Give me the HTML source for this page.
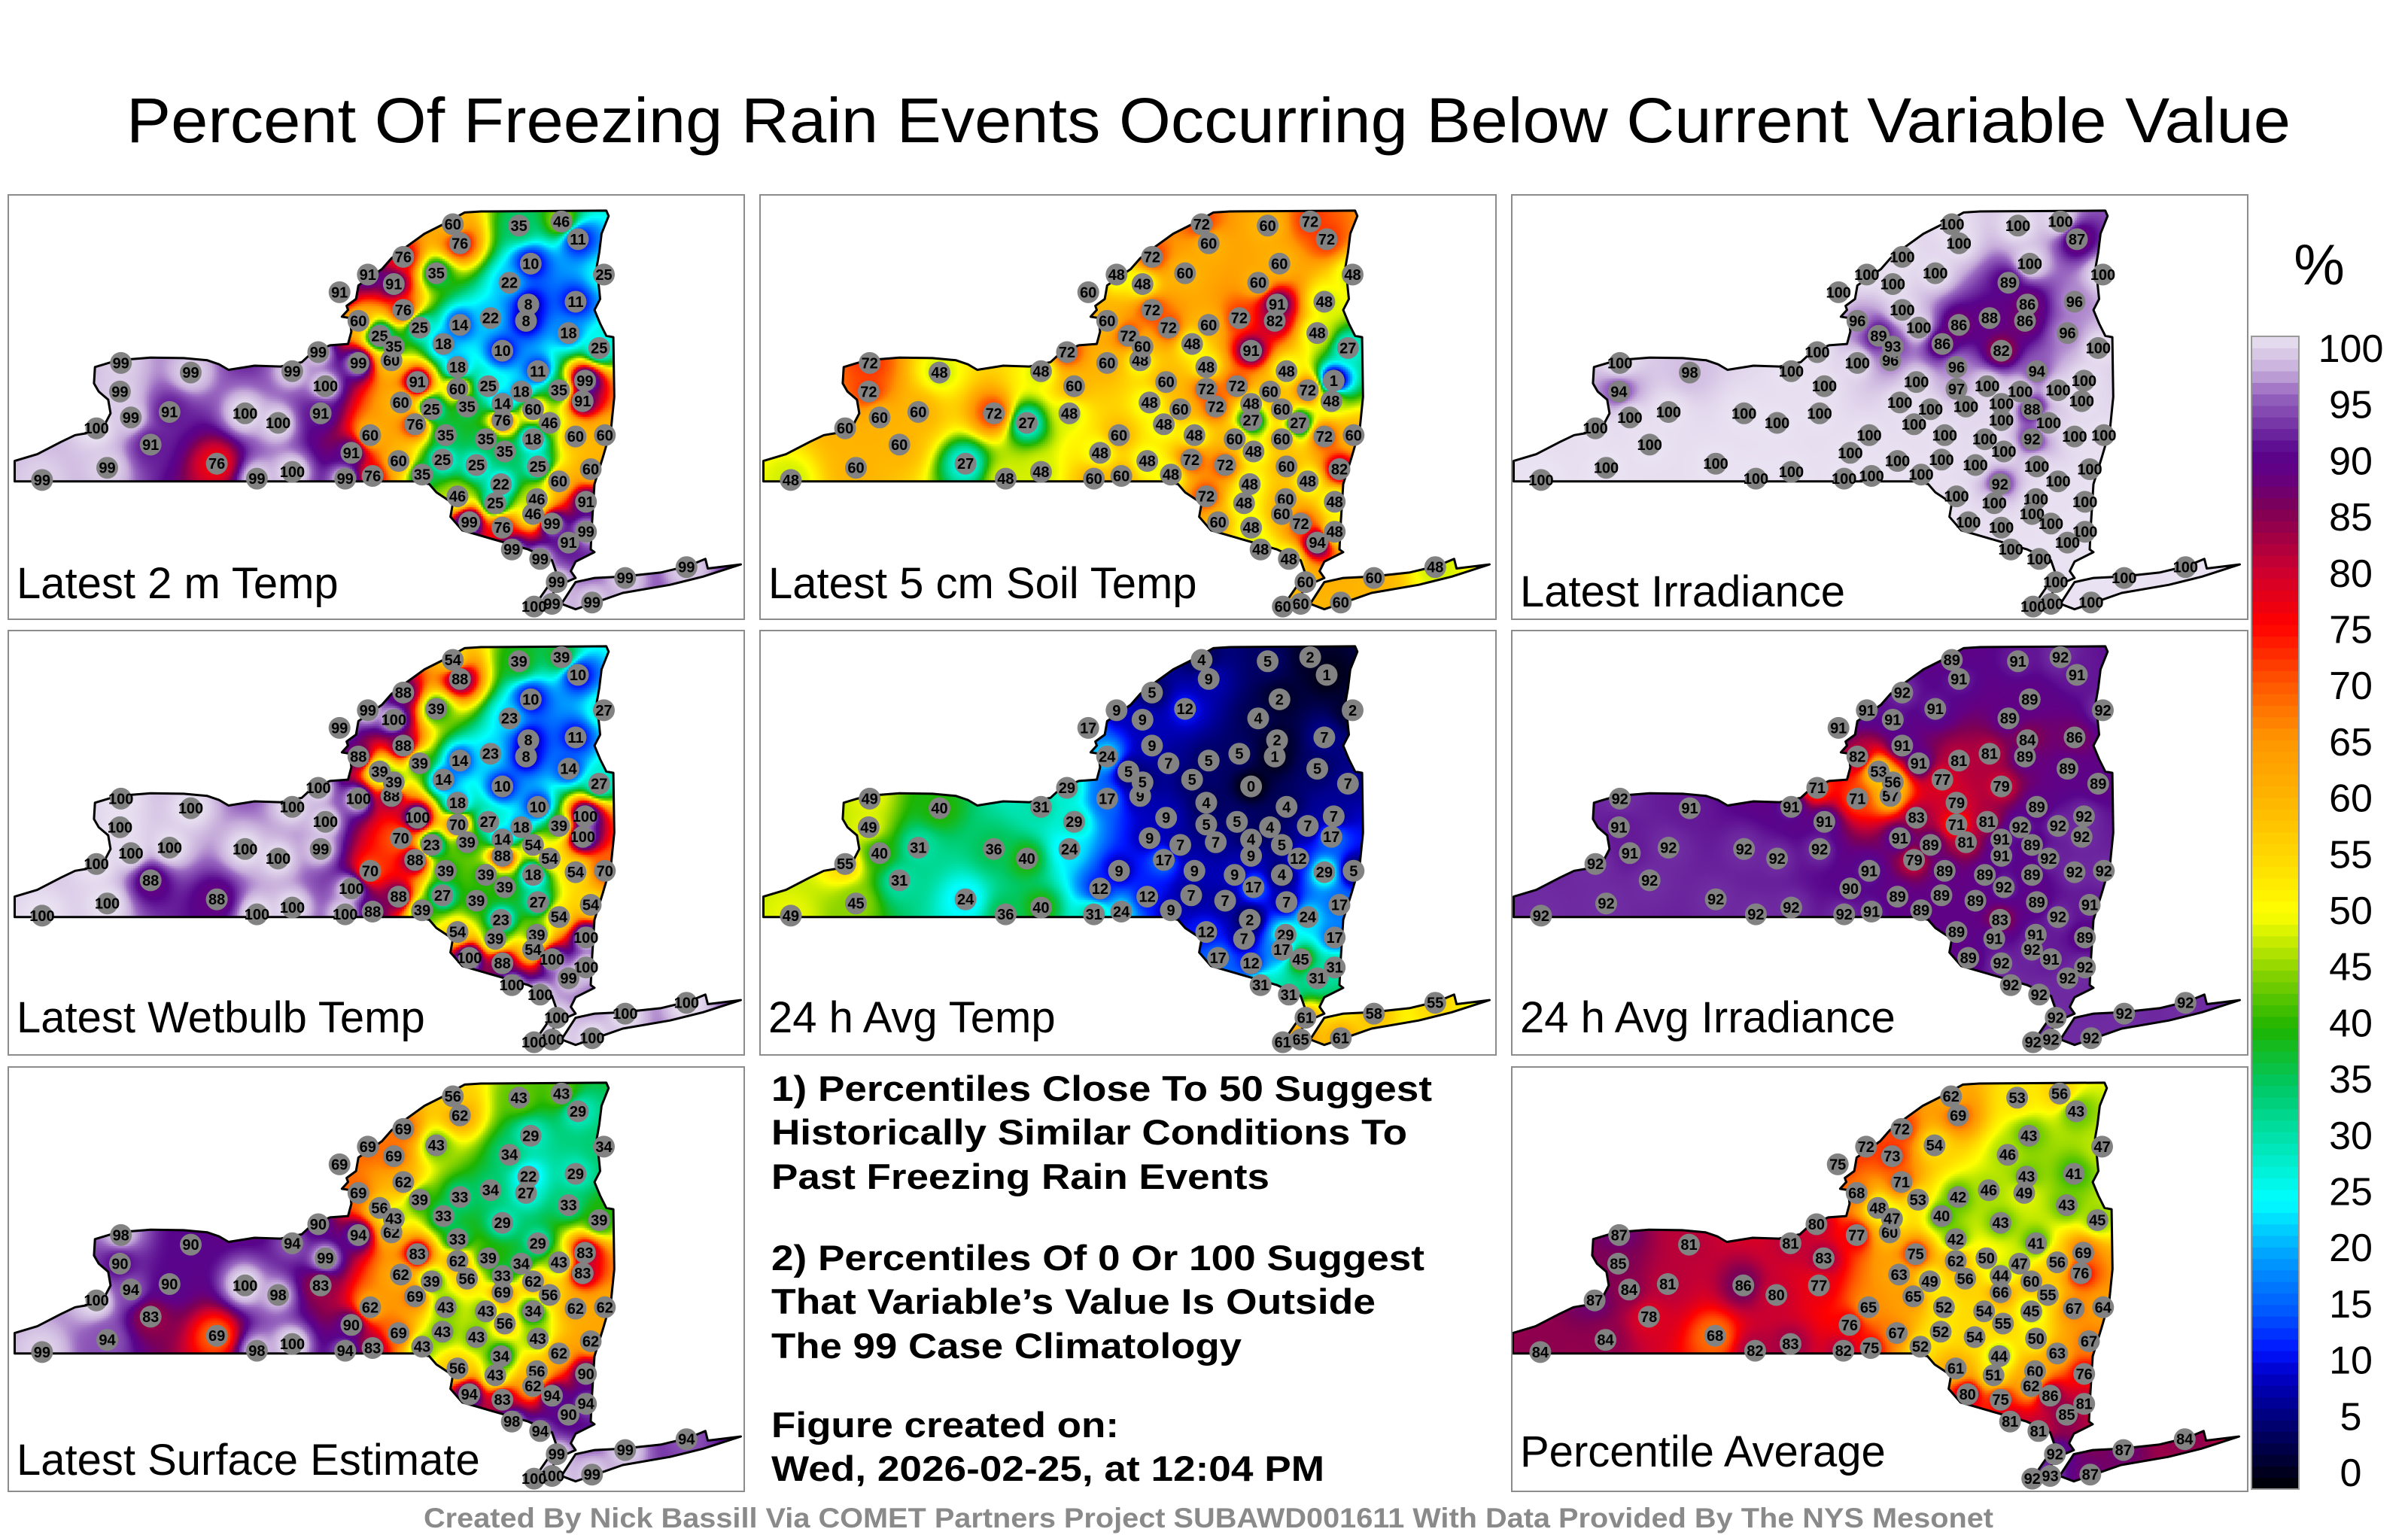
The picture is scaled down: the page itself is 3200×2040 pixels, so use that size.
<!DOCTYPE html>
<html>
<head>
<meta charset="utf-8">
<style>
  html,body{margin:0;padding:0;background:#fff;}
  #root{position:relative;width:3200px;height:2040px;overflow:hidden;background:#fff;font-family:"Liberation Sans",sans-serif;}
  .panel{position:absolute;width:976px;height:562px;border:2px solid #8c8c8c;background:#fff;overflow:hidden;}
  .panel canvas{position:absolute;left:0;top:0;}
  .panel svg{position:absolute;left:0;top:0;}
</style>
</head>
<body>
<div id="root">
<svg id="main" width="3200" height="2040" style="position:absolute;left:0;top:0">
  <text x="1606" y="189" text-anchor="middle" font-size="84" textLength="2876" lengthAdjust="spacingAndGlyphs" font-family="Liberation Sans, sans-serif">Percent Of Freezing Rain Events Occurring Below Current Variable Value</text>
  <g font-family="Liberation Sans, sans-serif" font-weight="bold" font-size="47">
    <text x="1025" y="1463" textLength="878" lengthAdjust="spacingAndGlyphs">1) Percentiles Close To 50 Suggest</text>
    <text x="1025" y="1521" textLength="845" lengthAdjust="spacingAndGlyphs">Historically Similar Conditions To</text>
    <text x="1025" y="1580" textLength="662" lengthAdjust="spacingAndGlyphs">Past Freezing Rain Events</text>
    <text x="1025" y="1688" textLength="868" lengthAdjust="spacingAndGlyphs">2) Percentiles Of 0 Or 100 Suggest</text>
    <text x="1025" y="1746" textLength="803" lengthAdjust="spacingAndGlyphs">That Variable’s Value Is Outside</text>
    <text x="1025" y="1805" textLength="625" lengthAdjust="spacingAndGlyphs">The 99 Case Climatology</text>
    <text x="1025" y="1910" textLength="462" lengthAdjust="spacingAndGlyphs">Figure created on:</text>
    <text x="1025" y="1968" textLength="735" lengthAdjust="spacingAndGlyphs">Wed, 2026-02-25, at 12:04 PM</text>
  </g>
  <text x="1606" y="2030" text-anchor="middle" font-size="37" font-weight="bold" fill="#8a8a8a" textLength="2086" lengthAdjust="spacingAndGlyphs" font-family="Liberation Sans, sans-serif">Created By Nick Bassill Via COMET Partners Project SUBAWD001611 With Data Provided By The NYS Mesonet</text>
  <g id="cbar"></g>
  <text x="3082" y="378" text-anchor="middle" font-size="76" font-family="Liberation Sans, sans-serif">%</text>
</svg>
</div>
<script>
// ---- station map coordinates (map units, same network in every panel) ----
const stationE = [70,237,235,258,185,300,208,340,385,440,500,525,600,570,600,670,660,655,740,725,712,765,740,700,815,835,955,940,1080,1170,1205,1260,1105,1060,905,1200,1100,955,870,1020,1185,1045,920,810,1250,1120,950,865,1220,1215,830,950,1015,1085,1165,895,970,1045,1110,860,925,1045,1145,1200,1262,1010,1110,825,918,990,1050,1120,1232,770,875,1165,1042,950,1030,1118,1222,975,1045,1110,1150,1222,1185,1065,1125,1160,1150,1235,1305,1435,1112,1095,785,815,835,760];
const stationN = [1045,615,720,815,855,915,1000,795,650,985,800,1040,1015,835,645,700,800,575,615,945,1040,880,460,355,325,225,175,105,110,95,160,290,250,320,285,390,400,475,485,450,505,570,545,605,560,645,630,685,680,755,760,710,700,720,715,785,775,765,785,840,880,825,835,885,880,895,895,975,970,990,940,995,1005,1030,1025,1050,1060,1105,1130,1115,1125,1200,1220,1170,1205,1235,1275,1300,1335,1420,1500,1495,1405,1365,1510,460,515,555,420,290];

// ---- percentile values per panel ----
const valsTemp2m = [99,99,99,99,100,91,99,91,99,76,100,99,100,100,99,100,91,99,99,91,99,60,60,91,91,76,76,60,35,46,11,25,10,22,35,11,8,14,25,22,18,10,18,60,25,11,18,91,99,91,60,60,25,18,35,25,35,14,60,76,35,76,46,60,60,35,18,60,25,25,35,25,60,76,35,60,22,46,25,46,91,99,76,46,99,99,91,99,99,99,99,99,99,99,100,8,25,35,76,91];
const valsSoil5cm = [48,72,72,60,60,60,60,60,48,27,72,48,48,27,48,60,48,72,60,48,60,60,60,60,48,72,60,72,60,72,72,48,60,60,60,48,91,60,72,72,48,91,48,48,27,48,48,60,1,48,48,72,72,60,72,60,72,48,60,48,48,27,27,72,60,60,60,48,72,72,48,60,82,60,48,48,48,72,48,60,48,60,48,60,72,48,94,48,48,60,60,60,60,48,60,82,72,60,72,48];
const valsIrradiance = [100,100,94,100,100,100,100,100,98,100,100,100,100,100,100,100,100,100,100,100,100,100,96,100,100,100,100,100,100,100,87,100,100,89,100,96,86,86,100,88,96,82,86,96,100,94,96,100,100,100,100,97,100,100,100,100,100,100,88,100,100,100,100,100,100,100,92,100,100,100,100,100,100,100,100,100,92,100,100,100,100,100,100,100,100,100,100,100,100,100,100,100,100,100,100,86,89,93,100,100];
const valsWetbulb = [100,100,100,100,100,88,100,100,100,88,100,100,100,100,100,100,99,100,100,100,100,70,88,99,100,88,88,54,39,39,10,27,10,23,39,11,8,14,39,23,14,10,14,88,27,10,18,100,100,100,70,70,27,18,39,23,39,14,54,88,39,88,54,54,70,39,18,88,27,39,39,27,54,88,39,54,23,54,39,39,100,100,88,54,100,100,99,100,100,100,100,100,100,100,100,8,39,39,88,99];
const valsAvgTemp = [49,49,49,40,55,31,45,31,40,24,36,36,40,40,31,29,24,29,17,12,31,9,24,17,9,5,9,4,5,2,1,2,2,4,12,7,2,5,7,5,5,0,5,9,7,4,4,9,7,17,9,5,5,4,7,7,7,4,5,17,9,9,12,29,5,9,4,12,7,7,17,7,17,24,9,24,2,12,7,29,17,17,12,17,45,31,31,31,31,61,65,61,58,55,61,1,5,5,9,9];
const valsAvgIrr = [92,92,91,91,92,92,92,92,91,92,92,92,92,92,91,91,92,71,71,90,92,91,82,91,91,92,91,89,91,92,91,92,89,89,91,86,84,81,91,81,89,79,77,57,89,89,79,83,92,92,91,71,81,92,92,89,81,91,89,79,89,91,92,92,92,89,89,89,89,89,92,89,91,91,89,92,83,89,91,91,89,89,92,92,91,92,92,92,92,92,92,92,92,92,92,89,53,56,91,91];
const valsSurface = [99,98,90,94,100,83,94,90,90,69,100,98,100,98,94,99,83,90,94,90,94,62,69,69,69,69,62,56,43,43,29,34,29,34,43,29,22,33,39,34,33,29,33,62,39,29,33,83,83,83,62,62,39,34,43,39,56,33,62,69,43,69,56,62,62,43,34,69,43,43,56,43,62,83,43,62,34,56,43,56,90,94,83,62,94,94,90,98,94,99,100,99,99,94,100,27,56,43,62,69];
const valsAverage = [84,87,85,84,87,78,84,81,81,68,86,82,83,80,81,83,77,80,77,76,82,65,68,75,73,72,69,62,53,56,43,47,43,46,54,41,43,42,53,46,43,43,40,60,45,41,42,75,69,76,63,62,50,47,56,49,56,44,60,65,52,66,55,67,64,54,45,67,52,54,55,50,67,75,52,63,44,61,51,60,76,80,75,62,86,81,85,81,81,92,93,87,87,84,92,49,48,47,71,72];

// ---- colour scale stops (percent -> rgb) ----
const stopV = [0,5,10,12,15,20,25,30,35,40,45,48,50,55,60,65,70,75,80,85,88,90,92,95,97,100];
const stopC = [[0,0,0],[0,0,100],[0,0,200],[0,20,255],[0,80,255],[0,155,255],[0,255,255],[0,228,180],[0,200,100],[30,180,0],[140,212,0],[210,240,0],[255,255,0],[255,215,0],[255,180,0],[255,150,0],[255,85,0],[255,0,0],[200,0,50],[125,0,85],[100,0,130],[88,5,140],[112,45,162],[152,102,192],[198,172,218],[234,227,242]];
const cbarTicks = [0,5,10,15,20,25,30,35,40,45,50,55,60,65,70,75,80,85,90,95,100];

function colorOf(v){
  if(v<=0) return stopC[0];
  if(v>=100) return stopC[stopC.length-1];
  for(let i=1;i<stopV.length;i++){
    if(v<=stopV[i]){
      const t=(v-stopV[i-1])/(stopV[i]-stopV[i-1]);
      const a=stopC[i-1],b=stopC[i];
      return [a[0]+(b[0]-a[0])*t,a[1]+(b[1]-a[1])*t,a[2]+(b[2]-a[2])*t];
    }
  }
  return stopC[stopC.length-1];
}
function rgb(c){return 'rgb('+Math.round(c[0])+','+Math.round(c[1])+','+Math.round(c[2])+')';}

const SX = 980/1562, SY = 566/1565;
const outlineMain = [[12,1050],[12,975],[60,950],[110,905],[140,880],[175,870],[200,850],[215,800],[210,750],[190,720],[180,690],[182,630],[230,605],[300,595],[370,597],[420,605],[445,620],[465,640],[520,625],[575,628],[620,612],[640,580],[680,550],[718,545],[725,500],[722,450],[705,445],[718,420],[715,405],[735,380],[740,330],[790,270],[810,230],[840,190],[880,140],[920,105],[965,62],[1000,58],[1265,55],[1270,75],[1255,140],[1250,210],[1245,260],[1252,380],[1240,420],[1252,470],[1265,515],[1280,520],[1282,740],[1275,860],[1258,960],[1240,1060],[1235,1200],[1232,1300],[1240,1310],[1200,1345],[1190,1380],[1200,1405],[1180,1420],[1160,1440],[1150,1470],[1110,1520],[1095,1530],[1120,1490],[1140,1440],[1160,1390],[1150,1340],[1100,1300],[1040,1270],[1000,1250],[960,1230],[935,1180],[940,1130],[905,1090],[890,1060],[860,1050]];
const outlineLI = [[1200,1420],[1240,1405],[1300,1400],[1380,1385],[1440,1360],[1475,1335],[1480,1370],[1550,1355],[1470,1400],[1400,1430],[1300,1460],[1250,1490],[1200,1520],[1170,1500],[1185,1460]];

const panels = [
  {key:'latest-2m-temp', label:'Latest 2 m Temp', x:10, y:258, dx:0, ly:535, vals:valsTemp2m},
  {key:'latest-5cm-soil-temp', label:'Latest 5 cm Soil Temp', x:1009, y:258, dx:-4, ly:535, vals:valsSoil5cm},
  {key:'latest-irradiance', label:'Latest Irradiance', x:2008, y:258, dx:-6, ly:546, vals:valsIrradiance},
  {key:'latest-wetbulb-temp', label:'Latest Wetbulb Temp', x:10, y:837, dx:0, ly:533, vals:valsWetbulb},
  {key:'24h-avg-temp', label:'24 h Avg Temp', x:1009, y:837, dx:-4, ly:533, vals:valsAvgTemp},
  {key:'24h-avg-irradiance', label:'24 h Avg Irradiance', x:2008, y:837, dx:-6, ly:533, vals:valsAvgIrr},
  {key:'latest-surface-estimate', label:'Latest Surface Estimate', x:10, y:1417, dx:0, ly:541, vals:valsSurface},
  {key:'percentile-average', label:'Percentile Average', x:2008, y:1417, dx:-7, ly:530, vals:valsAverage}
];

const NS='http://www.w3.org/2000/svg';
const root=document.getElementById('root');

function pathOf(pts,dx){
  return 'M'+pts.map(p=>(p[0]*SX+dx).toFixed(1)+','+(p[1]*SY).toFixed(1)).join('L')+'Z';
}

panels.forEach(function(p){
  const div=document.createElement('div');
  div.className='panel';
  div.style.left=p.x+'px';div.style.top=p.y+'px';
  
  
  root.appendChild(div);

  const W=976,H=562;
  const cv=document.createElement('canvas');
  cv.width=W;cv.height=H;
  
  
  div.appendChild(cv);
  const ctx=cv.getContext('2d');
  const d=pathOf(outlineMain,p.dx)+pathOf(outlineLI,p.dx);
  ctx.save();
  ctx.clip(new Path2D(d));
  const px=stationE.map(e=>e*SX+p.dx), py=stationN.map(n=>n*SY);
  const cell=3;
  for(let y=0;y<H;y+=cell){
    for(let x=0;x<W;x+=cell){
      const cx=x+cell/2, cy=y+cell/2;
      let sw=0,sv=0,hit=-1;
      for(let i=0;i<px.length;i++){
        const ddx=cx-px[i], ddy=cy-py[i];
        const d2=ddx*ddx+ddy*ddy;
        if(d2<1){hit=i;break;}
        const w=1/(d2*Math.sqrt(d2));
        sw+=w;sv+=w*p.vals[i];
      }
      const v=hit>=0?p.vals[hit]:sv/sw;
      ctx.fillStyle=rgb(colorOf(v));
      ctx.fillRect(x,y,cell,cell);
    }
  }
  ctx.restore();

  const svg=document.createElementNS(NS,'svg');
  svg.setAttribute('width',W);svg.setAttribute('height',H);
  
  
  div.appendChild(svg);
  const ol=document.createElementNS(NS,'path');
  ol.setAttribute('d',d);
  ol.setAttribute('fill','none');ol.setAttribute('stroke','#000');ol.setAttribute('stroke-width','3');ol.setAttribute('stroke-linejoin','round');
  
  
  svg.appendChild(ol);
  for(let i=0;i<px.length;i++){
    const g=document.createElementNS(NS,'g');
    
    
    const c=document.createElementNS(NS,'circle');
    c.setAttribute('cx',px[i].toFixed(1));c.setAttribute('cy',py[i].toFixed(1));c.setAttribute('r','14.5');
    c.setAttribute('fill','#828282');
    g.appendChild(c);
    const t=document.createElementNS(NS,'text');
    t.setAttribute('x',px[i].toFixed(1));t.setAttribute('y',(py[i]+7).toFixed(1));
    t.setAttribute('text-anchor','middle');t.setAttribute('font-size','20');t.setAttribute('font-weight','bold');
    t.setAttribute('font-family','Liberation Sans Narrow, Liberation Sans, sans-serif');
    t.textContent=String(p.vals[i]);
    g.appendChild(t);
    svg.appendChild(g);
  }
  const lb=document.createElementNS(NS,'text');
  lb.setAttribute('x','10');lb.setAttribute('y',p.ly);
  lb.setAttribute('font-size','58');lb.setAttribute('font-family','Liberation Sans, sans-serif');
  
  
  lb.textContent=p.label;
  svg.appendChild(lb);
});

// ---- colorbar ----
const cb=document.getElementById('cbar');
const cbTop=447, cbBot=1979, cbX=2992, cbW=63;
const unit=(cbBot-cbTop)/100;
for(let v=0;v<100;v++){
  const r=document.createElementNS(NS,'rect');
  r.setAttribute('x',cbX);r.setAttribute('y',(cbBot-(v+1)*unit).toFixed(2));
  r.setAttribute('width',cbW);r.setAttribute('height',(unit+0.6).toFixed(2));
  r.setAttribute('fill',rgb(colorOf(v+0.5)));
  
  
  cb.appendChild(r);
}
const fr=document.createElementNS(NS,'rect');
fr.setAttribute('x',cbX);fr.setAttribute('y',cbTop);fr.setAttribute('width',cbW);fr.setAttribute('height',cbBot-cbTop);
fr.setAttribute('fill','none');fr.setAttribute('stroke','#999');fr.setAttribute('stroke-width','2');


cb.appendChild(fr);
cbarTicks.forEach(function(v){
  const t=document.createElementNS(NS,'text');
  const yy=1957-v*(1957-463)/100;
  t.setAttribute('x','3124');t.setAttribute('y',(yy+18).toFixed(1));
  t.setAttribute('text-anchor','middle');t.setAttribute('font-size','52');
  t.setAttribute('font-family','Liberation Sans, sans-serif');
  
  
  t.textContent=String(v);
  cb.appendChild(t);
});
</script>
</body>
</html>
